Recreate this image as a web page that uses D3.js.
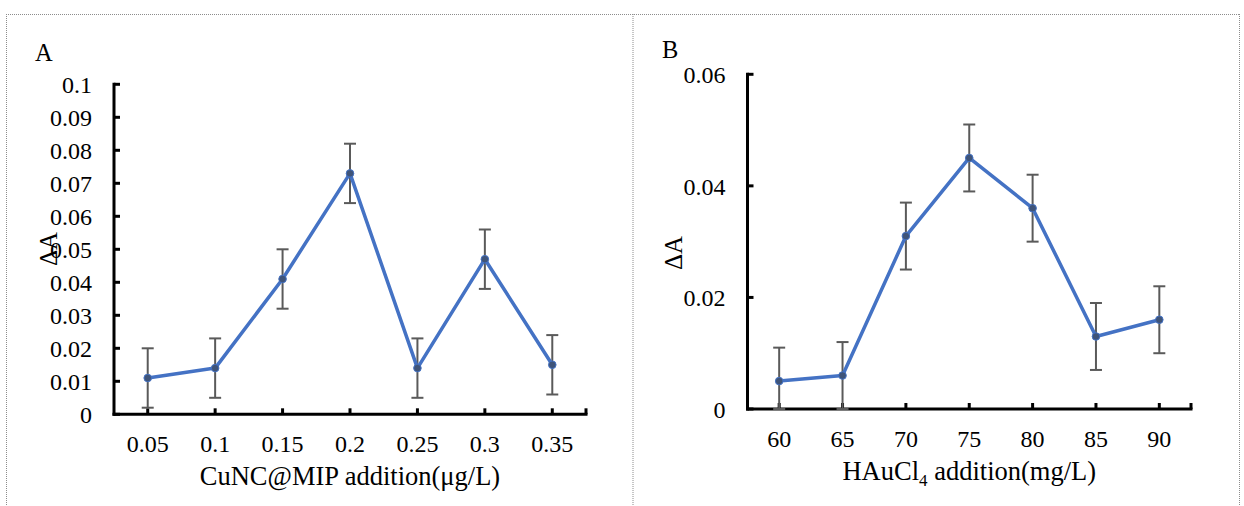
<!DOCTYPE html>
<html>
<head>
<meta charset="utf-8">
<script src="https://cdn.jsdelivr.net/npm/d3@7/dist/d3.min.js"></script>
<style>
  html, body { margin: 0; padding: 0; background: #fff; }
  svg { display: block; }
</style>
</head>
<body>
<svg id="chart" width="1244" height="506"></svg>
<script>
// Panel A: CuNC@MIP dosage
const doseCategories = ["0.05", "0.1", "0.15", "0.2", "0.25", "0.3", "0.35"];
const doseValues = [0.011, 0.014, 0.041, 0.073, 0.014, 0.047, 0.015];
const doseErrors = [0.009, 0.009, 0.009, 0.009, 0.009, 0.009, 0.009];
const doseTicks = [0, 0.01, 0.02, 0.03, 0.04, 0.05, 0.06, 0.07, 0.08, 0.09, 0.1];
const doseTickLabels = ["0", "0.01", "0.02", "0.03", "0.04", "0.05", "0.06", "0.07", "0.08", "0.09", "0.1"];

// Panel B: HAuCl4 dosage
const goldCategories = ["60", "65", "70", "75", "80", "85", "90"];
const goldValues = [0.005, 0.006, 0.031, 0.045, 0.036, 0.013, 0.016];
const goldErrors = [0.006, 0.006, 0.006, 0.006, 0.006, 0.006, 0.006];
const goldTicks = [0, 0.02, 0.04, 0.06];
const goldTickLabels = ["0", "0.02", "0.04", "0.06"];

const FONT = "'Liberation Serif', 'Times New Roman', Times, serif";
const TICK_SIZE = 24;
const TITLE_SIZE = 26.5;

const svg = d3.select("#chart")
  .attr("font-family", FONT)
  .style("font-family", FONT);

// dotted frame around the two panels
const frame = svg.append("g")
  .attr("fill", "none")
  .attr("stroke", "#8c8c8c")
  .attr("stroke-width", 1)
  .attr("stroke-dasharray", "1,1");
frame.append("line").attr("x1", 6).attr("y1", 14.5).attr("x2", 1240).attr("y2", 14.5);
frame.append("line").attr("x1", 6.5).attr("y1", 14).attr("x2", 6.5).attr("y2", 506);
frame.append("line").attr("x1", 633).attr("y1", 14).attr("x2", 633).attr("y2", 506);
frame.append("line").attr("x1", 1239.5).attr("y1", 14).attr("x2", 1239.5).attr("y2", 506);

function drawPanel(p) {
  const g = svg.append("g");
  const x = d3.scaleBand().domain(p.categories).range([p.left, p.right]).padding(0);
  const y = d3.scaleLinear().domain([0, p.ymax]).range([p.bottom, p.top]);
  const cx = c => x(c) + x.bandwidth() / 2;

  // panel letter
  g.append("text").attr("x", p.letterX).attr("y", p.letterY)
    .attr("font-size", 24.5).text(p.letter);

  // y axis: line, inward ticks, labels
  g.append("line").attr("x1", p.left).attr("x2", p.left)
    .attr("y1", p.top - 1.5).attr("y2", p.bottom + 1.5)
    .attr("stroke", "#000").attr("stroke-width", 3);
  g.selectAll(".ytick").data(p.ticks).join("line")
    .attr("x1", p.left).attr("x2", p.left + 6)
    .attr("y1", d => y(d)).attr("y2", d => y(d))
    .attr("stroke", "#000").attr("stroke-width", 3);
  g.selectAll(".ylab").data(p.ticks).join("text")
    .attr("x", p.left - 22).attr("y", d => y(d)).attr("dy", "0.36em")
    .attr("text-anchor", "end").attr("font-size", TICK_SIZE)
    .text((d, i) => p.tickLabels[i]);

  // x axis: line, inward ticks at category centres and axis end, labels
  g.append("line").attr("x1", p.left - 1.5).attr("x2", p.right + 1.5)
    .attr("y1", p.bottom).attr("y2", p.bottom)
    .attr("stroke", "#000").attr("stroke-width", 3);
  const xTickPos = p.categories.map(cx).concat([p.right]);
  g.selectAll(".xtick").data(xTickPos).join("line")
    .attr("x1", d => d).attr("x2", d => d)
    .attr("y1", p.bottom).attr("y2", p.bottom - 6)
    .attr("stroke", "#000").attr("stroke-width", 3);
  g.selectAll(".xlab").data(p.categories).join("text")
    .attr("x", d => cx(d)).attr("y", p.bottom + 37.5)
    .attr("text-anchor", "middle").attr("font-size", TICK_SIZE)
    .text(d => d);

  // axis titles
  const xt = g.append("text").attr("x", (p.left + p.right) / 2).attr("y", p.bottom + 71)
    .attr("text-anchor", "middle").attr("font-size", TITLE_SIZE);
  p.xTitle(xt);
  g.append("text")
    .attr("transform", `translate(${p.yTitleX},${p.yTitleY}) rotate(-90)`)
    .attr("text-anchor", "middle").attr("font-size", 25).text("ΔA");

  // error bars
  const eb = g.append("g").attr("stroke", "#5a5a5a").attr("stroke-width", 2);
  p.categories.forEach((c, i) => {
    const hi = y(p.values[i] + p.errors[i]);
    const lo = y(Math.max(0, p.values[i] - p.errors[i]));
    eb.append("line").attr("x1", cx(c)).attr("x2", cx(c)).attr("y1", hi).attr("y2", lo);
    eb.append("line").attr("x1", cx(c) - 6).attr("x2", cx(c) + 6).attr("y1", hi).attr("y2", hi);
    eb.append("line").attr("x1", cx(c) - 6).attr("x2", cx(c) + 6).attr("y1", lo).attr("y2", lo);
  });

  // series line and markers
  const line = d3.line().x((d, i) => cx(p.categories[i])).y(d => y(d));
  g.append("path").datum(p.values).attr("d", line)
    .attr("fill", "none").attr("stroke", "#4472c4").attr("stroke-width", 3.5)
    .attr("stroke-linejoin", "round");
  g.selectAll(".pt").data(p.values).join("circle")
    .attr("cx", (d, i) => cx(p.categories[i])).attr("cy", d => y(d)).attr("r", 3.8)
    .attr("fill", "#3f5479").attr("stroke", "#4472c4").attr("stroke-width", 1);
}

drawPanel({
  letter: "A", letterX: 35, letterY: 61,
  categories: doseCategories, values: doseValues, errors: doseErrors,
  ticks: doseTicks, tickLabels: doseTickLabels, ymax: 0.1,
  left: 114, right: 586, top: 84.3, bottom: 414.3,
  yTitleX: 57, yTitleY: 249,
  xTitle: t => t.text("CuNC@MIP addition(μg/L)")
});

drawPanel({
  letter: "B", letterX: 662, letterY: 58,
  categories: goldCategories, values: goldValues, errors: goldErrors,
  ticks: goldTicks, tickLabels: goldTickLabels, ymax: 0.06,
  left: 747.5, right: 1191, top: 74.3, bottom: 409,
  yTitleX: 682, yTitleY: 253,
  xTitle: t => {
    t.append("tspan").text("HAuCl");
    t.append("tspan").attr("font-size", 17).attr("dy", 6).text("4");
    t.append("tspan").attr("dy", -6).text(" addition(mg/L)");
  }
});
</script>
</body>
</html>
